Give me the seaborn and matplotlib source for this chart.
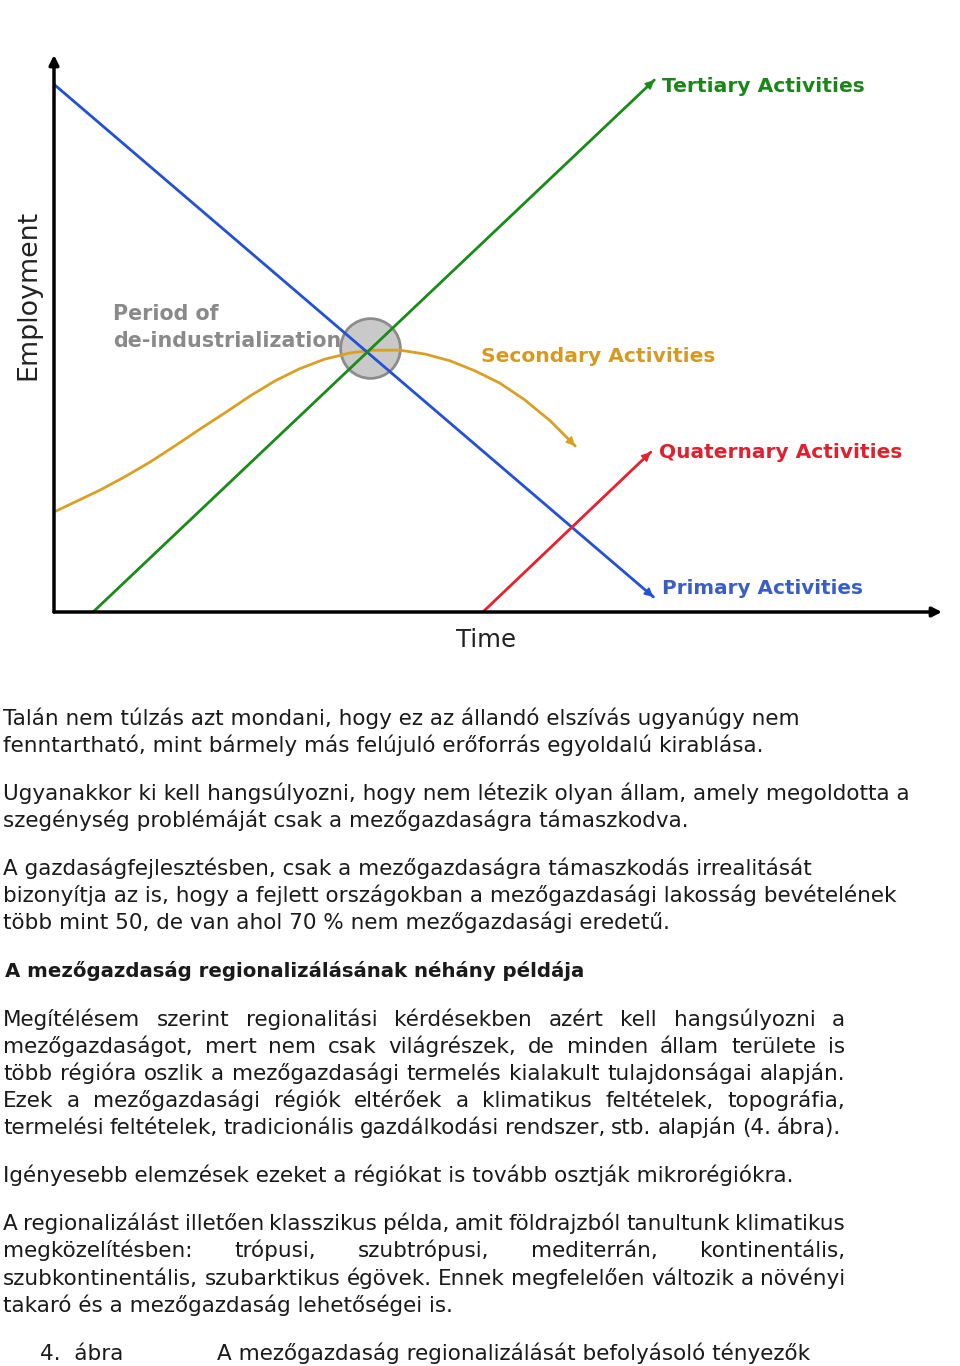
import matplotlib
matplotlib.use("Agg")
import matplotlib.pyplot as plt
import seaborn as sns
import numpy as np
import pandas as pd

# ---------------- data ----------------
primary_time = [0.1, 67.5]
primary_emp = [94.6, 2.7]
tertiary_time = [4.4, 67.6]
tertiary_emp = [0.0, 95.5]
quaternary_time = [48.3, 67.2]
quaternary_emp = [0.0, 28.7]
secondary_time = [0.2, 5.2, 8.0, 10.8, 13.6, 16.4, 19.3, 22.1, 24.9, 27.7, 30.5,
                  33.3, 35.9, 39.0, 41.8, 44.6, 47.4, 50.2, 53.0, 55.9, 58.7]
secondary_emp = [18.1, 21.9, 24.3, 26.9, 29.8, 32.8, 35.8, 38.8, 41.5, 43.7, 45.4,
                 46.5, 47.0, 47.0, 46.3, 45.1, 43.3, 41.1, 38.1, 34.3, 29.8]
deind_time = [35.6]
deind_emp = [47.4]

label_primary = "Primary Activities"
label_secondary = "Secondary Activities"
label_tertiary = "Tertiary Activities"
label_quaternary = "Quaternary Activities"
label_period = ["Period of", "de-industrialization"]
xlabel = "Time"
ylabel = "Employment"

para1 = ["Talán nem túlzás azt mondani, hogy ez az állandó elszívás ugyanúgy nem",
         "fenntartható, mint bármely más felújuló erőforrás egyoldalú kirablása."]
para2 = ["Ugyanakkor ki kell hangsúlyozni, hogy nem létezik olyan állam, amely megoldotta a",
         "szegénység problémáját csak a mezőgazdaságra támaszkodva."]
para3 = ["A gazdaságfejlesztésben, csak a mezőgazdaságra támaszkodás irrealitását",
         "bizonyítja az is, hogy a fejlett országokban a mezőgazdasági lakosság bevételének",
         "több mint 50, de van ahol 70 % nem mezőgazdasági eredetű."]
heading = "A mezőgazdaság regionalizálásának néhány példája"
para4 = ["Megítélésem szerint regionalitási kérdésekben azért kell hangsúlyozni a",
         "mezőgazdaságot, mert nem csak világrészek, de minden állam területe is",
         "több régióra oszlik a mezőgazdasági termelés kialakult tulajdonságai alapján.",
         "Ezek a mezőgazdasági régiók eltérőek a klimatikus feltételek, topográfia,",
         "termelési feltételek, tradicionális gazdálkodási rendszer, stb. alapján (4. ábra)."]
para5 = ["Igényesebb elemzések ezeket a régiókat is tovább osztják mikrorégiókra."]
para6 = ["A regionalizálást illetően klasszikus példa, amit földrajzból tanultunk klimatikus",
         "megközelítésben: trópusi, szubtrópusi, mediterrán, kontinentális,",
         "szubkontinentális, szubarktikus égövek. Ennek megfelelően változik a növényi",
         "takaró és a mezőgazdaság lehetőségei is."]
caption_num = "4.  ábra"
caption_text = "A mezőgazdaság regionalizálását befolyásoló tényezők"

# ---------------- style ----------------
sns.set_style("white")
plt.rcParams["font.family"] = ["DejaVu Sans"]

W, H = 960, 1366
fig = plt.figure(figsize=(W / 100, H / 100), dpi=100)
fig.patch.set_facecolor("white")
renderer = fig.canvas.get_renderer()


def fxy(x, y):
    return x / W, 1 - y / H


def text_width(s, size, **kw):
    t = fig.text(0, 0, s, fontsize=size, **kw)
    bb = t.get_window_extent(renderer)
    t.remove()
    return bb.width, bb.height


def fit_size(s, target, vertical=False, **kw):
    w, h = text_width(s, 10, **kw)
    return 10 * target / (h if vertical else w)


# ---------------- chart ----------------
ax = fig.add_axes([54 / W, 1 - 612 / H, (942 - 54) / W, (612 - 55) / H])
ax.set_xlim(0, 100)
ax.set_ylim(0, 100)
ax.set_axis_off()

c_blue = "#2452d4"
c_green = "#1b8c1b"
c_red = "#e8222c"
c_orange = "#d9a024"

ax.scatter(deind_time, deind_emp, s=1850, facecolor="#c9c9c9",
           edgecolor="#8c8c8c", linewidth=2, zorder=1)

series = [
    (secondary_time, secondary_emp, c_orange),
    (primary_time, primary_emp, c_blue),
    (tertiary_time, tertiary_emp, c_green),
    (quaternary_time, quaternary_emp, c_red),
]
for i, (t, e, c) in enumerate(series):
    df = pd.DataFrame({"t": t, "e": e})
    sns.lineplot(data=df, x="t", y="e", sort=False, estimator=None, color=c,
                 linewidth=2.0, ax=ax, zorder=3 + i)
    ax.annotate("", xy=(t[-1], e[-1]), xytext=(t[-2], e[-2]),
                arrowprops=dict(arrowstyle="-|>", color=c, lw=1.2,
                                mutation_scale=13, shrinkA=0, shrinkB=0),
                zorder=3 + i)

# axes arrows
ax.annotate("", xy=(0, 1), xytext=(0, 0), xycoords="axes fraction",
            arrowprops=dict(arrowstyle="-|>", color="black", lw=2.5,
                            mutation_scale=14, shrinkA=0, shrinkB=0),
            annotation_clip=False, zorder=10)
ax.annotate("", xy=(1, 0), xytext=(0, 0), xycoords="axes fraction",
            arrowprops=dict(arrowstyle="-|>", color="black", lw=2.5,
                            mutation_scale=14, shrinkA=0, shrinkB=0),
            annotation_clip=False, zorder=10)

# chart labels
def put_label(s, left, base, width, color, weight="bold"):
    size = fit_size(s, width, fontweight=weight)
    fig.text(*fxy(left, base), s, fontsize=size, color=color, fontweight=weight,
             ha="left", va="baseline")

put_label(label_tertiary, 662, 92, 202, "#1a861a")
put_label(label_secondary, 481, 362, 234, "#d69a22")
put_label(label_quaternary, 659, 458, 243, "#e0202e")
put_label(label_primary, 662, 594, 200, "#3a5ec4")
sz_period = fit_size(label_period[1], 227, fontweight="bold")
fig.text(*fxy(113, 320), label_period[0], fontsize=sz_period, color="#8a8a8a",
         fontweight="bold", ha="left", va="baseline")
fig.text(*fxy(113, 347), label_period[1], fontsize=sz_period, color="#8a8a8a",
         fontweight="bold", ha="left", va="baseline")

sz_time = fit_size(xlabel, 60)
fig.text(*fxy(486, 647), xlabel, fontsize=sz_time, color="#222222",
         ha="center", va="baseline")
sz_emp = fit_size(ylabel, 170, vertical=True, rotation=90)
fig.text(*fxy(28, 295), ylabel, fontsize=sz_emp, color="#222222",
         rotation=90, ha="center", va="center")

# ---------------- body text ----------------
fit_lines = [(para1[0], 796), (para1[1], 747), (para2[0], 902), (para2[1], 702),
             (para3[0], 816), (para3[1], 898), (para3[2], 669), (para5[0], 786)]
body_size = float(np.median([fit_size(s, w) for s, w in fit_lines]))
body_color = "#1a1a1a"
LEFT = 3


def put_left(s, left, base, size=body_size, **kw):
    fig.text(*fxy(left, base), s, fontsize=size, color=body_color,
             ha="left", va="baseline", **kw)


def put_justified(s, left, right, base, size=body_size):
    words = s.split()
    widths = [text_width(w, size)[0] for w in words]
    gap = (right - left - sum(widths)) / (len(words) - 1)
    gap = max(gap, 3)
    x = left
    for w, wd in zip(words, widths):
        put_left(w, x, base, size)
        x += wd + gap


bases1 = [725, 752]
bases2 = [800, 827]
bases3 = [875, 902, 929]
base_head = 977
bases4 = [1026, 1053, 1080, 1107, 1134]
bases5 = [1182]
bases6 = [1230, 1257, 1285, 1312]
base_cap = 1360

for s, b in zip(para1, bases1):
    put_left(s, LEFT, b)
for s, b in zip(para2, bases2):
    put_left(s, LEFT, b)
for s, b in zip(para3, bases3):
    put_left(s, LEFT, b)

head_size = fit_size(heading, 582, fontweight="bold")
put_left(heading, 5, base_head, size=head_size, fontweight="bold")

for i, (s, b) in enumerate(zip(para4, bases4)):
    put_justified(s, LEFT, 845 if i < 4 else 841, b)
for s, b in zip(para5, bases5):
    put_left(s, LEFT, b)
for i, (s, b) in enumerate(zip(para6, bases6)):
    if i < 3:
        put_justified(s, LEFT, 845, b)
    else:
        put_left(s, LEFT, b)

put_left(caption_num, 40, base_cap)
put_left(caption_text, 217, base_cap)

fig.savefig("out.png", dpi=100, facecolor="white")
